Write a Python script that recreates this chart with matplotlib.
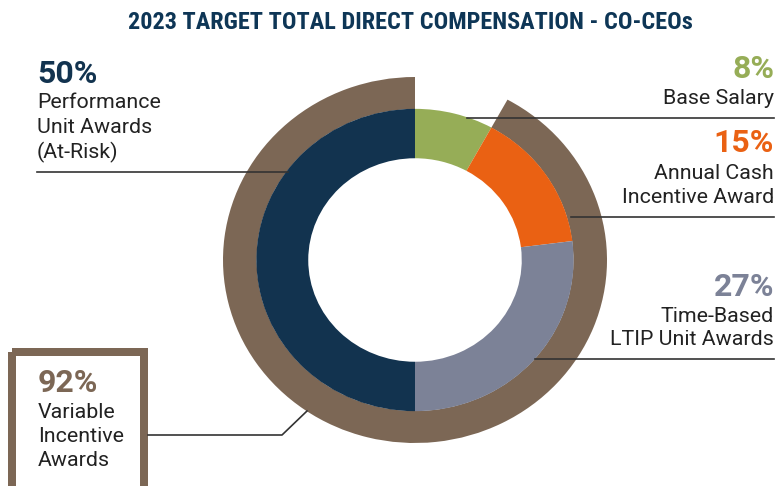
import matplotlib
matplotlib.use("Agg")
import matplotlib.pyplot as plt
from matplotlib.patches import Rectangle

plt.rcParams['font.family'] = ['Roboto', 'DejaVu Sans']

# data
parts = ['Base Salary', 'Annual Cash Incentive Award', 'Time-Based LTIP Unit Awards',
         'Performance Unit Awards (At-Risk)']
shares = [8, 15, 27, 50]
part_colors = ['#96AD57', '#EA6113', '#7C8297', '#12334F']
variable_share = 92
brown = '#7C6755'
title = '2023 TARGET TOTAL DIRECT COMPENSATION - CO-CEOs'

W, H = 777, 486
fig = plt.figure(figsize=(W / 100, H / 100), dpi=100)

# donut: outer brown ring (variable pay) + inner ring (components)
cx, cy, rx, ry = 415, 260, 192, 183
axp = fig.add_axes([(cx - rx) / W, (H - cy - ry) / H, 2 * rx / W, 2 * ry / H])
axp.pie([100 - variable_share, variable_share], colors=['none', brown],
        startangle=90, counterclock=False, radius=1.0,
        wedgeprops=dict(width=0.175, linewidth=0))
axp.pie(shares, colors=part_colors, startangle=90, counterclock=False,
        radius=0.826, wedgeprops=dict(width=0.27, linewidth=0))
axp.set_aspect('auto')
axp.set_xlim(-1, 1)
axp.set_ylim(-1, 1)
axp.axis('off')

# overlay in pixel coordinates for labels and leader lines
ax = fig.add_axes([0, 0, 1, 1])
ax.set_xlim(0, W)
ax.set_ylim(H, 0)
ax.axis('off')
ax.patch.set_alpha(0)

ax.text(410, 29, title, ha='center', va='baseline', fontsize=17.5,
        fontweight='bold', color='#0E3656',
        family=['Liberation Sans Narrow', 'Roboto Condensed', 'DejaVu Sans'])

lc = '#333333'
lw = 1.2
txt = '#222222'
fs = 15.4
pfs = 23

# left: performance
ax.text(37, 83, '50%', fontsize=pfs, fontweight='bold', color=part_colors[3], va='baseline')
for yy, s in zip([108, 133, 158], ['Performance', 'Unit Awards', '(At-Risk)']):
    ax.text(37, yy, s, fontsize=fs, color=txt, va='baseline')
ax.plot([37, 288], [172, 172], color=lc, lw=lw)

# right side labels
ax.text(774, 78, '8%', fontsize=pfs, fontweight='bold', color=part_colors[0],
        ha='right', va='baseline')
ax.text(774, 104, 'Base Salary', fontsize=fs, color=txt, ha='right', va='baseline')
ax.plot([467, 774], [118, 118], color=lc, lw=lw)

ax.text(774, 152, '15%', fontsize=pfs, fontweight='bold', color=part_colors[1],
        ha='right', va='baseline')
ax.text(774, 179, 'Annual Cash', fontsize=fs, color=txt, ha='right', va='baseline')
ax.text(774, 203, 'Incentive Award', fontsize=fs, color=txt, ha='right', va='baseline')
ax.plot([571, 774], [217, 217], color=lc, lw=lw)

ax.text(774, 296, '27%', fontsize=pfs, fontweight='bold', color=part_colors[2],
        ha='right', va='baseline')
ax.text(774, 322, 'Time-Based', fontsize=fs, color=txt, ha='right', va='baseline')
ax.text(774, 345, 'LTIP Unit Awards', fontsize=fs, color=txt, ha='right', va='baseline')
ax.plot([535, 774], [359, 359], color=lc, lw=lw)

# variable incentive box
ax.add_patch(Rectangle((12, 352), 132, 150, fill=False, edgecolor=brown,
                       linewidth=8 * 0.72, clip_on=False))
ax.text(38, 392, '92%', fontsize=pfs, fontweight='bold', color=brown, va='baseline')
for yy, s in zip([418, 442, 466], ['Variable', 'Incentive', 'Awards']):
    ax.text(38, yy, s, fontsize=fs, color=txt, va='baseline')
ax.plot([148, 282, 307], [435, 435, 411], color=lc, lw=lw)

fig.savefig('out.png', dpi=100)
